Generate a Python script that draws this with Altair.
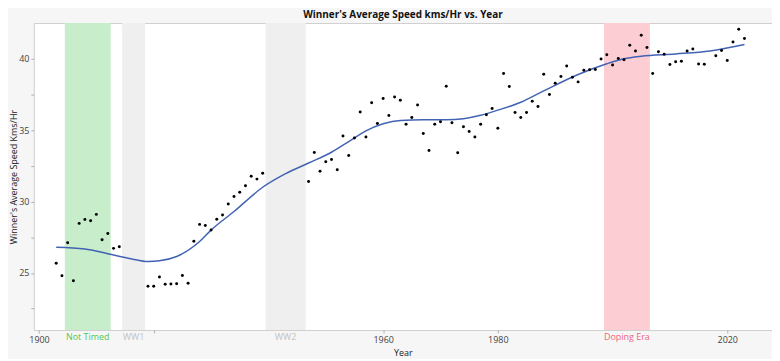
import altair as alt
import pandas as pd

# ---- data ----
years = [1903, 1904, 1905, 1906, 1907, 1908, 1909, 1910, 1911, 1912, 1913, 1914,
         1919, 1920, 1921, 1922, 1923, 1924, 1925, 1926, 1927, 1928, 1929, 1930,
         1931, 1932, 1933, 1934, 1935, 1936, 1937, 1938, 1939,
         1947, 1948, 1949, 1950, 1951, 1952, 1953, 1954, 1955, 1956, 1957, 1958,
         1959, 1960, 1961, 1962, 1963, 1964, 1965, 1966, 1967, 1968, 1969, 1970,
         1971, 1972, 1973, 1974, 1975, 1976, 1977, 1978, 1979, 1980, 1981, 1982,
         1983, 1984, 1985, 1986, 1987, 1988, 1989, 1990, 1991, 1992, 1993, 1994,
         1995, 1996, 1997, 1998, 1999, 2000, 2001, 2002, 2003, 2004, 2005, 2006,
         2007, 2008, 2009, 2010, 2011, 2012, 2013, 2014, 2015, 2016,
         2018, 2019, 2020, 2021, 2022, 2023]
speeds = [25.68, 24.80, 27.11, 24.46, 28.47, 28.74, 28.66, 29.10, 27.32, 27.76, 26.72, 26.84,
          24.06, 24.07, 24.72, 24.20, 24.23, 24.25, 24.82, 24.27, 27.22, 28.40, 28.32, 28.01,
          28.76, 29.05, 29.82, 30.36, 30.65, 31.11, 31.77, 31.57, 31.98,
          31.41, 33.44, 32.12, 32.78, 32.95, 32.23, 34.59, 33.23, 34.45, 36.27, 34.52, 36.92,
          35.47, 37.21, 36.03, 37.32, 37.09, 35.42, 35.88, 36.76, 34.76, 33.57, 35.41, 35.59,
          38.08, 35.52, 33.41, 35.24, 34.91, 34.52, 35.42, 36.08, 36.51, 35.14, 38.96, 38.06,
          36.23, 35.88, 36.23, 37.02, 36.65, 38.91, 37.49, 38.28, 38.75, 39.50, 38.71, 38.38,
          39.19, 39.23, 39.24, 39.98, 40.28, 39.56, 40.02, 39.93, 40.94, 40.55, 41.65, 40.78,
          38.97, 40.49, 40.32, 39.59, 39.79, 39.83, 40.55, 40.69, 39.64, 39.62,
          40.21, 40.58, 39.88, 41.17, 42.07, 41.42]

# smoothing curve
curve_years = [1903, 1908, 1912, 1916, 1919, 1921, 1924, 1928, 1930, 1934, 1939, 1943,
               1947, 1951, 1954, 1957, 1960, 1963, 1967, 1971, 1974, 1977, 1980, 1984,
               1988, 1994, 1999, 2002, 2005, 2011, 2017, 2023]
curve_values = [26.80, 26.68, 26.35, 26.00, 25.80, 25.85, 26.15, 27.20, 28.00, 29.30, 31.00, 31.95,
                32.70, 33.45, 34.20, 34.95, 35.45, 35.68, 35.72, 35.72, 35.80, 36.04, 36.40, 36.95,
                37.75, 38.90, 39.65, 40.00, 40.18, 40.34, 40.55, 41.00]

region_names = ["Not Timed", "WW1", "WW2", "Doping Era"]
region_start = [1904.5, 1914.5, 1939.5, 1998.5]
region_end = [1912.5, 1918.5, 1946.5, 2006.5]
region_fill = ["#c8edca", "#efefef", "#efefef", "#fccdd3"]
region_text = ["#4fc84f", "#c2c2c2", "#c2c2c2", "#f0627b"]

W, H = 743, 309
FONT = "Open Sans"

pts = pd.DataFrame({"Year": years, "Speed": speeds})
crv = pd.DataFrame({"Year": curve_years, "Speed": curve_values})
reg = pd.DataFrame({"name": region_names, "start": region_start, "end": region_end,
                    "fill": region_fill, "tcol": region_text})
reg["mid"] = (reg["start"] + reg["end"]) / 2

xscale = alt.Scale(domain=[1899.1, 2027.8], nice=False, zero=False)
yscale = alt.Scale(domain=[21, 42.5], nice=False, zero=False)

xaxis = alt.Axis(values=[1900, 1920, 1960, 1980, 2020],
                 labelExpr="datum.value == 1920 ? '' : datum.label",
                 format="d", grid=False, domain=False, tickSize=3, tickColor="#b0b0b0",
                 labelFont=FONT, labelFontSize=9, labelColor="#444444", labelPadding=3,
                 title="Year", titleFont=FONT, titleFontSize=9, titleFontWeight="normal",
                 titleColor="#222222", titlePadding=4)
yaxis = alt.Axis(values=[22.5, 25, 27.5, 30, 32.5, 35, 37.5, 40],
                 labelExpr="datum.value % 5 == 0 ? datum.label : ''",
                 grid=False, domain=False, tickSize=3, tickColor="#b0b0b0",
                 labelFont=FONT, labelFontSize=9, labelColor="#444444", labelPadding=2,
                 title="Winner's Average Speed Kms/Hr", titleFont=FONT, titleFontSize=9,
                 titleFontWeight="normal", titleColor="#222222",
                 titleX=-20, titleBaseline="middle")

rects = alt.Chart(reg).mark_rect().encode(
    x=alt.X("start:Q", scale=xscale, axis=xaxis),
    x2="end:Q",
    y=alt.value(0), y2=alt.value(H),
    color=alt.Color("fill:N", scale=None),
)

labels = alt.Chart(reg).mark_text(font=FONT, fontSize=9, baseline="middle", dy=7).encode(
    x=alt.X("mid:Q", scale=xscale),
    y=alt.value(H),
    text="name:N",
    color=alt.Color("tcol:N", scale=None),
)

curve = alt.Chart(crv).mark_line(color="#4262b4", strokeWidth=1.5, interpolate="monotone").encode(
    x=alt.X("Year:Q", scale=xscale),
    y=alt.Y("Speed:Q", scale=yscale, axis=yaxis),
)

points = alt.Chart(pts).mark_circle(color="black", size=9, opacity=1).encode(
    x=alt.X("Year:Q", scale=xscale),
    y=alt.Y("Speed:Q", scale=yscale),
)

chart = alt.layer(rects, labels, curve, points).properties(
    width=W, height=H,
    autosize=alt.AutoSizeParams(type="none"),
    padding={"left": 26, "top": 14, "right": 0, "bottom": 28},
    background="#f6f6f6",
    title=alt.TitleParams("Winner's Average Speed kms/Hr vs. Year", font=FONT, fontSize=10,
                          fontWeight="bold", color="#111111", anchor="middle", offset=3),
).configure_view(fill="white", stroke="#cfcfcf", strokeWidth=1)

chart.save("out.html", embed_options={"renderer": "svg", "actions": False})
